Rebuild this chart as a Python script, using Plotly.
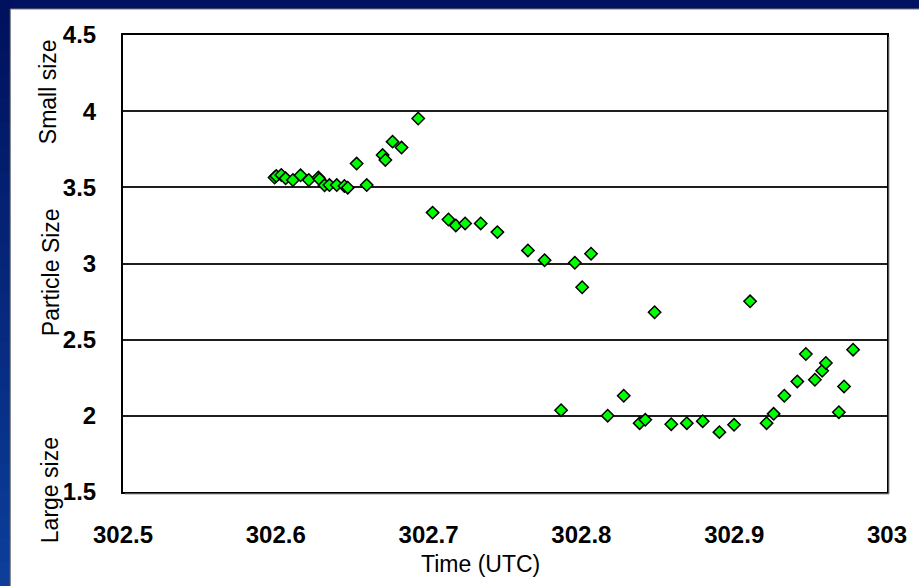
import plotly.graph_objects as go

time_utc = [
    302.5992, 302.6003, 302.6036, 302.6064, 302.6112, 302.6162, 302.6216, 302.6279,
    302.6286, 302.6319, 302.6351, 302.6399, 302.6449, 302.6471, 302.6529, 302.6595,
    302.6699, 302.6717, 302.6764, 302.6823, 302.6932,
    302.7026, 302.7130, 302.7178, 302.7239, 302.7341, 302.7450, 302.7650, 302.7759,
    302.7957, 302.8005, 302.8063, 302.8479,
    302.7867, 302.8172, 302.8277, 302.8381, 302.8418, 302.8588, 302.8690, 302.8794,
    302.8903, 302.8999, 302.9104, 302.9212, 302.9258, 302.9328, 302.9413, 302.9469,
    302.9528, 302.9576, 302.9600, 302.9685, 302.9719, 302.9778,
]
particle_size = [
    3.564, 3.574, 3.581, 3.559, 3.548, 3.579, 3.548, 3.564,
    3.553, 3.513, 3.515, 3.515, 3.509, 3.498, 3.656, 3.515,
    3.712, 3.680, 3.800, 3.761, 3.952,
    3.334, 3.289, 3.250, 3.263, 3.263, 3.206, 3.086, 3.022,
    3.005, 2.844, 3.064, 2.680,
    2.037, 2.001, 2.132, 1.952, 1.974, 1.945, 1.952, 1.965,
    1.893, 1.941, 2.752, 1.952, 2.013, 2.132, 2.226, 2.406,
    2.237, 2.296, 2.347, 2.024, 2.193, 2.434,
]

x_ticks = [302.5, 302.6, 302.7, 302.8, 302.9, 303]
x_tick_labels = ["302.5", "302.6", "302.7", "302.8", "302.9", "303"]
y_ticks = [1.5, 2, 2.5, 3, 3.5, 4, 4.5]
y_tick_labels = ["1.5", "2", "2.5", "3", "3.5", "4", "4.5"]

W, H = 919, 586
L, R, T, B = 123, 30, 35, 94
pw, ph = W - L - R, H - T - B


def px_x(p):
    return (p - L) / pw


def px_y(p):
    return (H - B - p) / ph


fig = go.Figure()

fig.add_trace(
    go.Scatter(
        x=time_utc,
        y=particle_size,
        mode="markers",
        marker=dict(symbol="diamond", size=9.5, color="#00FF00",
                    line=dict(color="black", width=1.5)),
        showlegend=False,
    )
)

# 배경: 위쪽 남색 띠 + 왼쪽 파란 그라데이션 띠 (나머지는 흰색)
shapes = [dict(type="rect", xref="paper", yref="paper", layer="below",
               x0=px_x(-5), x1=px_x(W + 5), y0=px_y(9), y1=px_y(-5),
               fillcolor="#001260", line=dict(width=0))]
n = 24
c_top, c_bot = (0, 18, 94), (12, 62, 154)
for i in range(n):
    f = i / (n - 1)
    col = "rgb({},{},{})".format(*[int(a + (b - a) * f) for a, b in zip(c_top, c_bot)])
    shapes.append(dict(type="rect", xref="paper", yref="paper", layer="below",
                       x0=px_x(-5), x1=px_x(10), y0=px_y(H * (i + 1) / n + 1), y1=px_y(H * i / n),
                       fillcolor=col, line=dict(width=0)))
# 흰 패널 테두리
shapes.append(dict(type="line", xref="paper", yref="paper", layer="below",
                   x0=px_x(10), x1=px_x(W + 5), y0=px_y(9), y1=px_y(9),
                   line=dict(color="#7a7a7a", width=1)))
shapes.append(dict(type="line", xref="paper", yref="paper", layer="below",
                   x0=px_x(10), x1=px_x(10), y0=px_y(9), y1=px_y(H + 5),
                   line=dict(color="#7a7a7a", width=1)))
# 그림자 (오른쪽/아래)
shapes.append(dict(type="line", xref="paper", yref="paper",
                   x0=px_x(L + pw + 2), x1=px_x(L + pw + 2), y0=px_y(T + 2), y1=px_y(H - B + 2),
                   line=dict(color="#9a9a9a", width=1)))
shapes.append(dict(type="line", xref="paper", yref="paper",
                   x0=px_x(L + 2), x1=px_x(L + pw + 2), y0=px_y(H - B + 2), y1=px_y(H - B + 2),
                   line=dict(color="#9a9a9a", width=1)))

annotations = [
    dict(text="Particle Size", x=px_x(51), y=px_y(272), textangle=-90),
    dict(text="Small size", x=px_x(48), y=px_y(92), textangle=-90),
    dict(text="Large size", x=px_x(50), y=px_y(490), textangle=-90),
    dict(text="Time (UTC)", x=px_x(481), y=px_y(564), textangle=0),
]
for a in annotations:
    a.update(xref="paper", yref="paper", showarrow=False, xanchor="center", yanchor="middle",
             font=dict(family="Liberation Sans, Arial", size=23, color="black"))

tick_font = dict(family="Liberation Sans, Arial", size=24, color="black", weight="bold")

fig.update_layout(
    width=W,
    height=H,
    margin=dict(l=L, r=R, t=T, b=B),
    paper_bgcolor="white",
    plot_bgcolor="white",
    shapes=shapes,
    annotations=annotations,
    xaxis=dict(
        range=[302.5, 303],
        tickvals=x_ticks,
        ticktext=x_tick_labels,
        showgrid=False,
        zeroline=False,
        showline=True,
        mirror=True,
        linecolor="black",
        linewidth=2,
        ticks="",
        ticklabelstandoff=20,
        tickfont=tick_font,
    ),
    yaxis=dict(
        range=[1.5, 4.5],
        tickvals=y_ticks,
        ticktext=y_tick_labels,
        showgrid=True,
        gridcolor="#1e1e1e",
        gridwidth=2,
        zeroline=False,
        showline=True,
        mirror=True,
        linecolor="black",
        linewidth=2,
        ticks="",
        ticklabelstandoff=20,
        tickfont=tick_font,
    ),
)

fig.write_html("out.html", config={"displayModeBar": False},
               post_script="document.body.style.margin='0';")
